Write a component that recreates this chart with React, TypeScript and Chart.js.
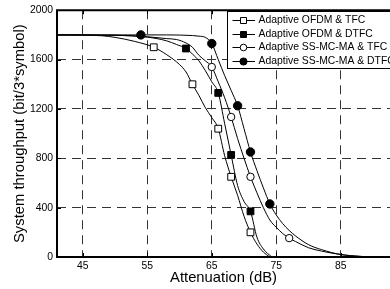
import React, { useEffect, useRef } from 'react';
import { Chart, registerables } from 'chart.js';

Chart.register(...registerables);

const FONT = "Arial, 'Liberation Sans', Helvetica, sans-serif";

const seriesNames = [
  'Adaptive OFDM & TFC',
  'Adaptive OFDM & DTFC',
  'Adaptive SS-MC-MA & TFC',
  'Adaptive SS-MC-MA & DTFC',
];

const xTickValues = [45, 55, 65, 75, 85];
const yTickValues = [0, 400, 800, 1200, 1600, 2000];

// Adaptive OFDM & TFC (open squares)
const attOfdmTfc = [41, 45, 48, 50, 53, 56, 58, 60, 61, 62, 63, 64, 65, 66, 67, 68, 69, 70, 71, 72, 73, 74];
const thrOfdmTfc = [1800, 1798, 1793, 1780, 1748, 1700, 1640, 1560, 1500, 1400, 1310, 1210, 1130, 1040, 820, 650, 500, 330, 200, 105, 40, 0];
const mkOfdmTfc = [56, 62, 66, 68, 71];

// Adaptive OFDM & DTFC (filled squares)
const attOfdmDtfc = [41, 50, 55, 58, 59.5, 61, 62, 63, 64, 65, 66, 67, 68, 69, 70, 71, 72, 73, 74.3];
const thrOfdmDtfc = [1800, 1797, 1782, 1752, 1723, 1690, 1645, 1590, 1510, 1420, 1330, 1080, 827, 580, 450, 370, 160, 65, 0];
const mkOfdmDtfc = [61, 66, 68, 71];

// Adaptive SS-MC-MA & TFC (open circles)
const attSsTfc = [41, 50, 55, 58, 59.5, 61, 62, 63, 64, 65, 66, 67, 68, 69, 70, 71, 72, 73, 74, 75, 76, 77, 78, 80, 82, 85, 88, 90];
const thrSsTfc = [1800, 1797, 1785, 1770, 1763, 1735, 1700, 1635, 1590, 1540, 1420, 1290, 1135, 960, 800, 650, 520, 400, 300, 240, 190, 153, 125, 75, 48, 20, 5, 0];
const mkSsTfc = [65, 68, 71, 77];

// Adaptive SS-MC-MA & DTFC (filled circles)
const attSsDtfc = [41, 54, 58, 60, 62, 63, 64, 65, 66, 67, 68, 69, 70, 71, 72, 73, 74, 75, 76, 77, 78, 80, 82, 85, 88, 91];
const thrSsDtfc = [1800, 1800, 1800, 1799, 1795, 1790, 1780, 1730, 1600, 1470, 1350, 1226, 1040, 851, 700, 560, 430, 340, 270, 215, 170, 100, 60, 20, 5, 0];
const mkSsDtfc = [54, 65, 69, 71, 74];

type Series = {
  name: string;
  x: number[];
  y: number[];
  marks: number[];
  style: 'rect' | 'circle';
  filled: boolean;
  r: number;
};

const series: Series[] = [
  { name: seriesNames[0], x: attOfdmTfc, y: thrOfdmTfc, marks: mkOfdmTfc, style: 'rect', filled: false, r: 4.8 },
  { name: seriesNames[1], x: attOfdmDtfc, y: thrOfdmDtfc, marks: mkOfdmDtfc, style: 'rect', filled: true, r: 4.8 },
  { name: seriesNames[2], x: attSsTfc, y: thrSsTfc, marks: mkSsTfc, style: 'circle', filled: false, r: 3.7 },
  { name: seriesNames[3], x: attSsDtfc, y: thrSsDtfc, marks: mkSsDtfc, style: 'circle', filled: true, r: 4.2 },
];

const framePlugin = {
  id: 'frame',
  afterDatasetsDraw(chart: any) {
    const { ctx, chartArea } = chart;
    const { left, right, top, bottom } = chartArea;
    ctx.save();
    ctx.setLineDash([]);
    ctx.strokeStyle = '#000';
    ctx.lineWidth = 2;
    ctx.beginPath();
    ctx.moveTo(left, top);
    ctx.lineTo(right + 2, top);
    ctx.moveTo(left, top - 1);
    ctx.lineTo(left, bottom);
    ctx.lineTo(right + 2, bottom);
    ctx.stroke();
    ctx.lineWidth = 1;
    ctx.beginPath();
    const xs = chart.scales.x;
    xTickValues.forEach((v) => {
      const p = Math.round(xs.getPixelForValue(v)) + 0.5;
      ctx.moveTo(p, bottom);
      ctx.lineTo(p, bottom - 4);
      ctx.moveTo(p, top);
      ctx.lineTo(p, top + 4);
    });
    const ys = chart.scales.y;
    yTickValues.forEach((v) => {
      const p = Math.round(ys.getPixelForValue(v)) + 0.5;
      ctx.moveTo(left, p);
      ctx.lineTo(left + 4, p);
    });
    ctx.stroke();
    ctx.restore();
  },
};

const legendPlugin = {
  id: 'customLegend',
  afterDraw(chart: any) {
    const { ctx } = chart;
    const bx = 227.5;
    const by = 11.5;
    const bw = 200;
    const bh = 57;
    ctx.save();
    ctx.setLineDash([]);
    ctx.fillStyle = '#fff';
    ctx.fillRect(bx, by, bw, bh);
    ctx.strokeStyle = '#000';
    ctx.lineWidth = 1;
    ctx.strokeRect(bx, by, bw, bh);
    ctx.font = `10.4px ${FONT}`;
    ctx.textBaseline = 'middle';
    ctx.textAlign = 'left';
    series.forEach((s, i) => {
      const y = 20 + i * 13.5;
      const yy = Math.round(y) + 0.5;
      ctx.beginPath();
      ctx.strokeStyle = '#000';
      ctx.lineWidth = 1;
      ctx.moveTo(232.5, yy);
      ctx.lineTo(255, yy);
      ctx.stroke();
      const cx = 243.5;
      ctx.beginPath();
      if (s.style === 'rect') {
        ctx.rect(cx - 3, yy - 3, 6, 6);
      } else {
        ctx.arc(cx, yy, s.filled ? 3.6 : 3.3, 0, Math.PI * 2);
      }
      ctx.fillStyle = s.filled ? '#000' : '#fff';
      ctx.fill();
      ctx.stroke();
      ctx.fillStyle = '#000';
      ctx.fillText(s.name, 258.5, y + 0.5);
    });
    ctx.restore();
  },
};

export default function App() {
  const ref = useRef<HTMLCanvasElement | null>(null);

  useEffect(() => {
    if (!ref.current) return;
    const chart = new Chart(ref.current, {
      type: 'line',
      data: {
        datasets: series.map((s) => ({
          label: s.name,
          data: s.x.map((x, i) => ({ x, y: s.y[i] })),
          borderColor: '#000',
          borderWidth: 1,
          backgroundColor: s.filled ? '#000' : '#fff',
          fill: false,
          cubicInterpolationMode: 'monotone',
          pointStyle: s.style,
          pointBorderColor: '#000',
          pointBackgroundColor: s.filled ? '#000' : '#fff',
          pointBorderWidth: 1,
          pointRadius: (c: any) => (c.raw && s.marks.includes(c.raw.x) ? s.r : 0),
          pointHoverRadius: 0,
        })) as any,
      },
      options: {
        responsive: false,
        animation: false,
        devicePixelRatio: 1,
        parsing: false as any,
        normalized: true,
        layout: { padding: { top: 9, right: 0, bottom: 0, left: 0 } },
        plugins: {
          legend: { display: false },
          tooltip: { enabled: false },
        },
        events: [],
        scales: {
          x: {
            type: 'linear',
            min: 41,
            max: 92.63,
            afterBuildTicks: (s: any) => {
              s.ticks = xTickValues.map((v) => ({ value: v }));
            },
            afterFit: (s: any) => {
              s.height = 32;
            },
            grid: { color: '#333', lineWidth: 1, drawTicks: false },
            border: { display: false, dash: [9, 6] },
            ticks: {
              padding: 3,
              color: '#000',
              autoSkip: false,
              maxRotation: 0,
              font: { family: FONT, size: 10.4 },
              callback: (v: any) => String(v),
            },
            title: {
              display: true,
              text: 'Attenuation (dB)',
              color: '#000',
              font: { family: FONT, size: 14.8 },
              padding: { top: 0, bottom: 2.5 },
            },
          },
          y: {
            type: 'linear',
            min: 0,
            max: 2000,
            afterBuildTicks: (s: any) => {
              s.ticks = yTickValues.map((v) => ({ value: v }));
            },
            afterFit: (s: any) => {
              s.width = 57;
            },
            grid: {
              color: (c: any) =>
                c.tick && (c.tick.value === 0 || c.tick.value === 2000) ? 'rgba(0,0,0,0)' : '#333',
              lineWidth: 1,
              drawTicks: false,
            },
            border: { display: false, dash: [9, 6] },
            ticks: {
              padding: 4,
              color: '#000',
              font: { family: FONT, size: 10.4 },
              callback: (v: any) => String(v),
            },
            title: {
              display: true,
              text: 'System throughput (bit/3*symbol)',
              color: '#000',
              font: { family: FONT, size: 14.8 },
              padding: { top: 11, bottom: 0 },
            },
          },
        },
      } as any,
      plugins: [framePlugin, legendPlugin],
    });
    return () => chart.destroy();
  }, []);

  return (
    <div style={{ position: 'absolute', left: 0, top: 0, width: 390, height: 289, overflow: 'hidden', background: '#fff' }}>
      <canvas ref={ref} width={390} height={289} style={{ display: 'block', width: 390, height: 289 }} />
    </div>
  );
}
